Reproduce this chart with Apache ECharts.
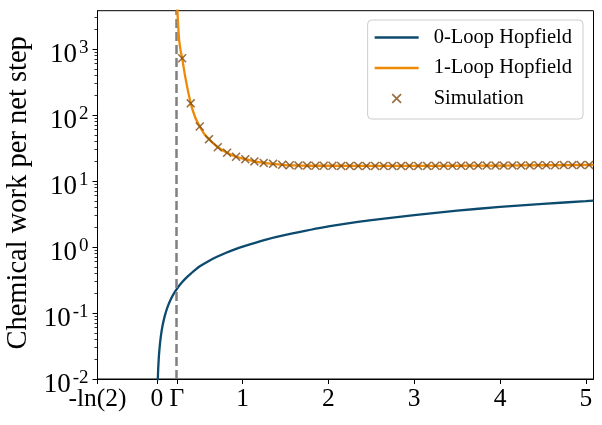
<!DOCTYPE html>
<html>
<head>
<meta charset="utf-8">
<script src="https://cdn.jsdelivr.net/npm/echarts@6/dist/echarts.min.js"></script>
<style>
html, body { margin: 0; padding: 0; background: #fff; }
#chart { width: 602px; height: 425px; }
</style>
</head>
<body>
<div id="chart"></div>
<script>
// values
var GAMMA = 0.233;
var xTickValues = [-Math.LN2, 0, GAMMA, 1, 2, 3, 4, 5];
var xTickLabels = ['-ln(2)', '0', 'Γ', '1', '2', '3', '4', '5'];
var yTickValues = [0.01, 0.1, 1, 10, 100, 1000];
var yTickExps = ['-2', '-1', '0', '1', '2', '3'];
var yMinorTicks = [0.02, 0.03, 0.04, 0.05, 0.06, 0.07, 0.08, 0.09,
  0.2, 0.3, 0.4, 0.5, 0.6, 0.7, 0.8, 0.9,
  2, 3, 4, 5, 6, 7, 8, 9,
  20, 30, 40, 50, 60, 70, 80, 90,
  200, 300, 400, 500, 600, 700, 800, 900,
  2000, 3000];

// 0-Loop Hopfield
var zeroLoopX = [0.006, 0.010, 0.013, 0.02, 0.03, 0.045, 0.065, 0.09, 0.12, 0.16, 0.2, 0.25, 0.3, 0.35, 0.4, 0.45, 0.5, 0.6, 0.7, 0.8, 0.9, 1.0, 1.25, 1.5, 2.0, 2.5, 3.0, 3.5, 4.0, 4.5, 5.0, 5.09];
var zeroLoopY = [0.006, 0.0098, 0.0128, 0.0195, 0.029, 0.044, 0.064, 0.089, 0.12, 0.16, 0.2, 0.25, 0.3, 0.35, 0.4, 0.455, 0.51, 0.61, 0.71, 0.81, 0.91, 1.01, 1.27, 1.52, 2.05, 2.55, 3.05, 3.55, 4.05, 4.5, 4.95, 5.05];

// 1-Loop Hopfield
var oneLoopX = [0.236, 0.239, 0.247, 0.258, 0.275, 0.294, 0.332, 0.394, 0.449, 0.499, 0.55, 0.607, 0.709, 0.818, 0.923, 1.03, 1.136, 1.245, 1.354, 1.46, 1.6, 1.8, 2.0, 2.5, 3.0, 3.5, 4.0, 4.5, 5.09];
var oneLoopY = [6500, 3800, 2300, 1400, 960, 723, 365, 150, 90, 67, 52, 43, 32.4, 26.8, 23.3, 21.4, 19.8, 18.8, 18.2, 17.6, 17.2, 17.0, 17.0, 16.9, 16.9, 17.0, 17.1, 17.3, 17.5];

// Simulation
var simX = [0.294, 0.394, 0.499, 0.607, 0.709, 0.818, 0.923, 1.030, 1.136, 1.245, 1.354, 1.460,
  1.548, 1.650, 1.751, 1.848, 1.945, 2.046, 2.148, 2.248, 2.346, 2.443, 2.544, 2.644, 2.746, 2.847, 2.944, 3.045, 3.150, 3.247,
  3.344, 3.445, 3.547, 3.647, 3.745, 3.845, 3.947, 4.043, 4.145, 4.246, 4.346, 4.445, 4.541, 4.643, 4.743, 4.844, 4.941, 5.039];
var simY = [723, 150, 67, 43, 32.4, 26.8, 23.3, 21.4, 19.8, 18.8, 18.2, 17.6,
  17.3, 17.2, 17.1, 17.0, 17.0, 17.0, 16.9, 16.9, 16.9, 16.9, 16.9, 16.9, 16.9, 16.9, 16.9, 16.9, 16.9, 17.0,
  17.0, 17.0, 17.0, 17.0, 17.1, 17.1, 17.1, 17.1, 17.2, 17.2, 17.2, 17.3, 17.3, 17.3, 17.4, 17.4, 17.4, 17.5];

var SERIF = 'Liberation Serif';
var BLUE = '#0c4a6e';
var ORANGE = '#ee8a06';
var BROWN = '#7f4b12';

function zip(xs, ys) {
  var out = [];
  for (var i = 0; i < xs.length; i++) {
    out.push([xs[i], ys[i]]);
  }
  return out;
}

function findIdx(arr, v) {
  for (var i = 0; i < arr.length; i++) {
    if (Math.abs(arr[i] - v) <= 1e-6 * Math.max(1, Math.abs(v))) return i;
  }
  return -1;
}

// x marker, filled so it keeps its thickness
var crossPath = 'path://M0,1.2L1.2,0L5,3.8L8.8,0L10,1.2L6.2,5L10,8.8L8.8,10L5,6.2L1.2,10L0,8.8L3.8,5Z';
// legend line icon: a bar in a 44x10 box (the moveTo points keep the box)
var lineIcon = 'path://M0,0M44,10M0,3.7L44,3.7L44,6.3L0,6.3Z';

var chart = echarts.init(document.getElementById('chart'), null, { renderer: 'canvas' });

var option = {
  animation: false,
  backgroundColor: '#fff',
  grid: {
    left: 97.5, right: 8.5, top: 10.7, bottom: 46,
    show: true, borderColor: '#000', borderWidth: 1,
    outerBoundsMode: 'none'
  },
  legend: {
    orient: 'vertical',
    right: 19,
    top: 20,
    padding: [7, 11, 10, 7],
    itemWidth: 44,
    itemHeight: 10,
    itemGap: 9.5,
    backgroundColor: 'rgba(255,255,255,0.8)',
    borderColor: '#cccccc',
    borderWidth: 1,
    borderRadius: 4,
    textStyle: { fontFamily: SERIF, fontSize: 20.5, color: '#000', lineHeight: 20, padding: [0, 0, 0, 10] },
    data: [
      { name: '0-Loop Hopfield', icon: lineIcon, itemStyle: { color: BLUE } },
      { name: '1-Loop Hopfield', icon: lineIcon, itemStyle: { color: ORANGE } },
      { name: 'Simulation', itemStyle: { color: BROWN } }
    ]
  },
  xAxis: {
    type: 'value',
    min: -Math.LN2,
    max: 5.09,
    axisLine: { onZero: false, lineStyle: { color: '#000', width: 1 } },
    axisTick: { show: true, length: 5, customValues: xTickValues, lineStyle: { color: '#000', width: 1 } },
    axisLabel: {
      customValues: xTickValues,
      margin: 7,
      fontFamily: SERIF,
      fontSize: 25.5,
      color: '#000',
      formatter: function (v) {
        var i = findIdx(xTickValues, v);
        return i < 0 ? '' : xTickLabels[i];
      }
    },
    splitLine: { show: false }
  },
  yAxis: [{
    type: 'log',
    logBase: 10,
    min: 0.01,
    max: 3800,
    axisLine: { show: true, onZero: false, lineStyle: { color: '#000', width: 1 } },
    axisTick: { show: true, length: 5, customValues: yTickValues, lineStyle: { color: '#000', width: 1 } },
    axisLabel: {
      customValues: yTickValues,
      margin: 9,
      padding: [9, 0, 0, 0],
      formatter: function (v) {
        var i = findIdx(yTickValues, v);
        return i < 0 ? '' : '{b|10}{s|' + yTickExps[i] + '}';
      },
      rich: {
        b: { fontFamily: SERIF, fontSize: 27, color: '#000', verticalAlign: 'bottom', lineHeight: 30 },
        s: { fontFamily: SERIF, fontSize: 19, color: '#000', verticalAlign: 'top', lineHeight: 8, padding: [0, 0, 0, 2] }
      }
    },
    splitLine: { show: false },
    name: 'Chemical work per net step',
    nameLocation: 'middle',
    nameGap: 63,
    nameTextStyle: { fontFamily: SERIF, fontSize: 28.5, color: '#000', padding: [0, 0, 0, 4] }
  }, {
    // minor ticks
    type: 'log',
    logBase: 10,
    min: 0.01,
    max: 3800,
    position: 'left',
    axisLine: { show: false, onZero: false },
    axisTick: { show: true, length: 3, customValues: yMinorTicks, lineStyle: { color: '#000', width: 0.8 } },
    axisLabel: { show: false },
    splitLine: { show: false }
  }],
  series: [{
    name: '0-Loop Hopfield',
    type: 'line',
    symbol: 'none',
    smooth: 0.2,
    z: 2,
    lineStyle: { color: BLUE, width: 2.3 },
    itemStyle: { color: BLUE },
    data: zip(zeroLoopX, zeroLoopY),
    markLine: {
      silent: true,
      z: 3,
      symbol: ['none', 'none'],
      label: { show: false },
      lineStyle: { color: '#808080', width: 2.5, type: [9, 4] },
      data: [{ xAxis: GAMMA }]
    }
  }, {
    name: '1-Loop Hopfield',
    type: 'line',
    symbol: 'none',
    smooth: 0.2,
    z: 4,
    lineStyle: { color: ORANGE, width: 2.3 },
    itemStyle: { color: ORANGE },
    data: zip(oneLoopX, oneLoopY)
  }, {
    name: 'Simulation',
    type: 'scatter',
    symbol: crossPath,
    symbolSize: 9,
    z: 5,
    itemStyle: { color: BROWN },
    data: zip(simX, simY)
  }]
};

chart.setOption(option);
</script>
</body>
</html>
